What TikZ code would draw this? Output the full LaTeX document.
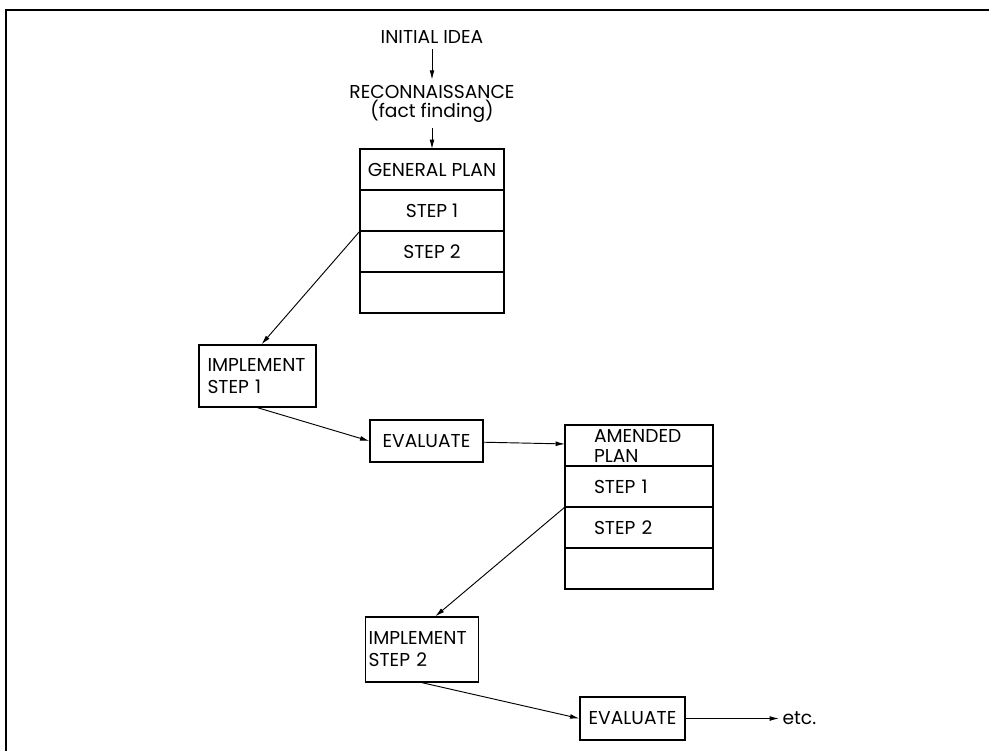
\documentclass[tikz,border=0pt]{standalone}
\usepackage{fontspec}
\setmainfont{Poppins}
\usetikzlibrary{arrows.meta,positioning}

\begin{document}
\begin{tikzpicture}[
    x=0.75pt, y=-0.75pt,
    every node/.style={font=\fontsize{14}{15}\selectfont},
    lbl/.style={inner sep=4pt, align=center, font=\fontsize{14}{14.5}\selectfont},
    row/.style={rectangle, draw, line width=1pt, minimum width=108pt, minimum height=30.75pt, inner sep=2pt, align=center, outer sep=0pt},
    amrow/.style={rectangle, draw, line width=1pt, text width=67.5pt, minimum height=30.75pt, inner xsep=21.75pt, inner ysep=1pt, align=left, outer sep=0pt},
    implbox/.style={rectangle, draw, line width=1pt, align=left, inner ysep=2pt, font=\fontsize{14}{16.5}\selectfont},
    evalbox/.style={rectangle, draw, line width=1pt, align=center, inner sep=2pt},
    arr/.style={-{Latex[length=7pt,width=3.6pt]}, line width=0.7pt}
]
    \useasboundingbox (0,0) rectangle (989,751);
    % Frame of the scanned page
    \draw [line width=1.5pt] (989,10) -- (6,10) -- (6,751);

    % Start
    \node (idea) [lbl] at (432,37) {INITIAL IDEA};
    \node (recon) [lbl] at (432,104) {RECONNAISSANCE\\(fact finding)};

    % General plan
    \node (gp1) [row] at (432,169.5) {GENERAL PLAN};
    \node (gp2) [row, below=0pt of gp1] {STEP 1};
    \node (gp3) [row, below=0pt of gp2] {STEP 2};
    \node (gp4) [row, below=0pt of gp3] {};

    \node (imp1) [implbox, text width=75pt, inner xsep=6.4pt, minimum height=46.5pt] at (257.5,376) {IMPLEMENT\\STEP 1};
    \node (eval1) [evalbox, minimum width=84.75pt, minimum height=31.5pt] at (426.5,441) {EVALUATE};

    % Amended plan
    \node (am1) [amrow] at (639,445.5) {AMENDED\\PLAN};
    \node (am2) [amrow, below=0pt of am1] {STEP 1};
    \node (am3) [amrow, below=0pt of am2] {STEP 2};
    \node (am4) [amrow, below=0pt of am3] {};

    \node (imp2) [implbox, text width=80pt, inner xsep=2.5pt, minimum height=48.75pt] at (422,649.5) {IMPLEMENT\\STEP 2};
    \node (eval2) [evalbox, minimum width=78.75pt, minimum height=32.25pt] at (632.5,718.5) {EVALUATE};
    \node (etc) [inner sep=2.5pt, right=70pt of eval2] {etc.};

    \draw [arr] (idea) -- (recon);
    \draw [arr] (recon) -- (gp1);
    \draw [arr] (gp3.north west) -- ([xshift=3pt]imp1.north);
    \draw [arr] (imp1.south) -- (eval1.west);
    \draw [arr] (eval1) -- (am1);
    \draw [arr] (am3.north west) -- ([xshift=10pt]imp2.north);
    \draw [arr] (imp2.south) -- (eval2.west);
    \draw [arr] (eval2) -- (etc);
\end{tikzpicture}
\end{document}
